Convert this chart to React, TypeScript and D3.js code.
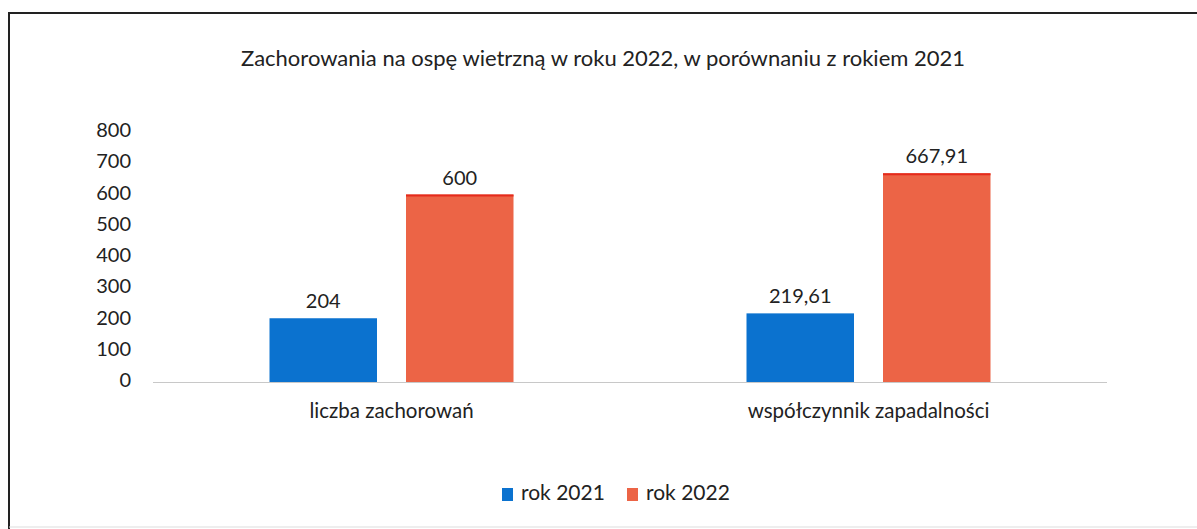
import React from 'react';
import * as d3 from 'd3';

const categories = ['liczba zachorowań', 'współczynnik zapadalności'];
const seriesNames = ['rok 2021', 'rok 2022'];
const values2021 = [204, 219.61];
const values2022 = [600, 667.91];
const valueLabels2021 = ['204', '219,61'];
const valueLabels2022 = ['600', '667,91'];
const yTicks = [0, 100, 200, 300, 400, 500, 600, 700, 800];

const W = 1197;
const H = 529;
const FONT = 'Lato, "Noto Sans", sans-serif';
const BLUE = '#0b72cf';
const ORANGE = '#ec6446';

const App = () => {
  const plot = { left: 153, right: 1107, top: 132, bottom: 382 };

  const y = d3.scaleLinear().domain([0, 800]).range([plot.bottom, plot.top]);
  const x0 = d3.scaleBand<string>().domain(categories).range([plot.left, plot.right]);
  const groupWidth = 244;
  const x1 = d3.scaleBand<string>().domain(seriesNames).range([0, groupWidth]).paddingInner(0.2125);

  const series = [
    { name: seriesNames[0], values: values2021, labels: valueLabels2021, color: BLUE },
    { name: seriesNames[1], values: values2022, labels: valueLabels2022, color: ORANGE },
  ];

  // legend positions
  const legendX = [502, 627];

  return (
    <svg width={W} height={H} style={{ position: 'absolute', left: 0, top: 0, background: '#fff' }}>
      <rect x={0} y={0} width={W} height={H} fill="#fff" />
      {/* frame */}
      <line x1={9} x2={W} y1={13} y2={13} stroke="#222" strokeWidth={2} />
      <line x1={9} x2={9} y1={12} y2={H} stroke="#222" strokeWidth={2} />
      <line x1={9} x2={W} y1={527} y2={527} stroke="#ddd" strokeWidth={1} />

      <text x={603} y={60} textAnchor="middle" dominantBaseline="middle"
        fontFamily={FONT} fontSize={22} fill="#222">
        Zachorowania na ospę wietrzną w roku 2022, w porównaniu z rokiem 2021
      </text>

      {yTicks.map(t => (
        <text key={t} x={131} y={y(t)} textAnchor="end" dominantBaseline="middle"
          fontFamily={FONT} fontSize={20} fill="#222">{t}</text>
      ))}

      <line x1={plot.left} x2={plot.right} y1={y(0) + 0.5} y2={y(0) + 0.5} stroke="#c8c8c8" strokeWidth={1} />

      {categories.map((c, ci) => {
        const gx = (x0(c) ?? 0) + (x0.bandwidth() - groupWidth) / 2;
        return (
          <g key={c}>
            {series.map(s => {
              const bx = gx + (x1(s.name) ?? 0);
              const by = y(s.values[ci]);
              return (
                <g key={s.name}>
                  <rect x={bx} y={by} width={x1.bandwidth()} height={y(0) - by} fill={s.color} />
                  {s.color === ORANGE && (
                    <rect x={bx} y={by} width={x1.bandwidth()} height={2} fill="#e52a1c" />
                  )}
                  <text x={bx + x1.bandwidth() / 2} y={by - 15} textAnchor="middle" dominantBaseline="middle"
                    fontFamily={FONT} fontSize={20} fill="#222">{s.labels[ci]}</text>
                </g>
              );
            })}
            <text x={(x0(c) ?? 0) + x0.bandwidth() / 2} y={413} textAnchor="middle" dominantBaseline="middle"
              fontFamily={FONT} fontSize={20.5} fill="#222">{c}</text>
          </g>
        );
      })}

      {series.map((s, i) => (
        <g key={s.name}>
          <rect x={legendX[i]} y={488} width={11} height={13} fill={s.color} />
          <text x={legendX[i] + 19} y={495} dominantBaseline="middle" fontFamily={FONT} fontSize={21} fill="#222">{s.name}</text>
        </g>
      ))}
    </svg>
  );
};

export default App;
